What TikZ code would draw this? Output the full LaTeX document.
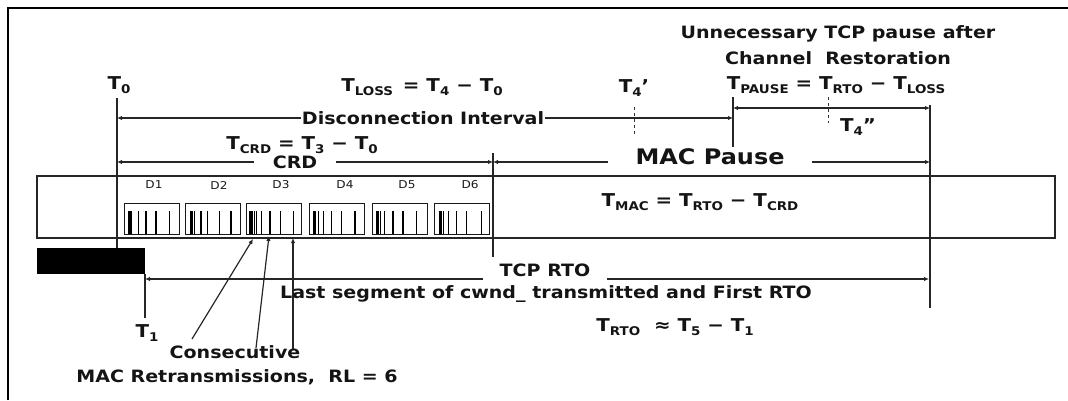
\documentclass[tikz,border=0pt]{standalone}
\usepackage{fontspec}
\setmainfont{DejaVu Sans}[FakeStretch=1.12]
\usetikzlibrary{arrows.meta}
\newcommand\Sb[1]{\raisebox{-0.2em}{\fontsize{12}{12}\selectfont #1}}
\tikzset{
  ln/.style={line width=1.2pt, draw=black!85},
  arr/.style={ln, {Latex[length=5pt,width=4.5pt]}-{Latex[length=5pt,width=4.5pt]}},
  rarr/.style={ln, -{Latex[length=5pt,width=4.5pt]}},
  dsh/.style={line width=1pt, draw=black!80, dash pattern=on 3pt off 3pt},
  lbl/.style={font=\fontsize{17}{20}\selectfont\bfseries, inner sep=0pt, text=black!92},
  texpr/.style={font=\fontsize{17.7}{20}\selectfont\bfseries, inner sep=0pt, text=black!92},
  dlbl/.style={font=\fontsize{10.8}{12}\selectfont, inner sep=0pt, text=black!90},
  cut/.style={fill=white},
  dbox/.style={draw=black!90, line width=1pt, minimum width=55pt, minimum height=31pt, inner sep=0pt},
  bar/.style={line width=1.1pt, draw=black},
}
\begin{document}
\begin{tikzpicture}[x=1pt,y=-1pt]
\useasboundingbox (0,0) rectangle (1068,400);
% frame
\coordinate (fbl) at (8,400); \coordinate (ftl) at (8,8); \coordinate (ftr) at (1068,8);
\draw[line width=2pt] (fbl) -- (ftl) -- (ftr);

% main MAC box and black block
\node[draw=black!85, line width=1.2pt, minimum width=1018pt, minimum height=62pt, inner sep=0pt] (macbox) at (546,207) {};
\node[fill=black, minimum width=108pt, minimum height=26pt, inner sep=0pt] (blk) at (91,261) {};

% small D boxes
\foreach \n/\bx/\offs in {1/124/{4.3,5.3,6.3,7.7,14.3,22,32,45.3},
                          2/185/{5.3,6.3,7.7,9.3,16,22.7,34.3,46},
                          3/246/{3.3,5,6.7,8.3,10.7,15.7,24,34.7,47.3},
                          4/309/{4.3,5.3,6.7,9.3,14.3,22.7,32.7,46},
                          5/372/{4.3,5.3,6.7,8.3,12.7,21,31,44.3},
                          6/434/{5.3,6.3,7.7,9.3,14.3,22.7,32.7,47.7}}{
  \node[dbox] (d\n box) at (\bx+27.5,218.5) {};
  \foreach \o in \offs { \draw[bar] (\bx+\o,211) -- (\bx+\o,234); }
}
\foreach \n/\lx in {1/154,2/219,3/281,4/345,5/407,6/470}{
  \node[dlbl] (d\n) at (\lx,185) {D\n};
}

% vertical time lines
\coordinate (t0a) at (117,98);  \coordinate (t0b) at (117,248);
\coordinate (t3a) at (493,153); \coordinate (t3b) at (493,257);
\coordinate (t4a) at (733,97);  \coordinate (t4b) at (733,152);
\coordinate (t5a) at (930,105); \coordinate (t5b) at (930,308);
\coordinate (t1a) at (145,274); \coordinate (t1b) at (145,318);
\draw[ln] (t0a) -- (t0b);
\draw[ln] (t3a) -- (t3b);
\draw[ln] (t4a) -- (t4b);
\draw[ln] (t5a) -- (t5b);
\draw[ln] (t1a) -- (t1b);

% dashed markers
\coordinate (t4pa) at (634,107); \coordinate (t4pb) at (634,135);
\coordinate (t4ppa) at (828,97); \coordinate (t4ppb) at (828,123);
\draw[dsh] (t4pa) -- (t4pb);
\draw[dsh] (t4ppa) -- (t4ppb);

% interval arrows
\coordinate (discL) at (117,118); \coordinate (discR) at (733,118);
\coordinate (pauL) at (733,108);  \coordinate (pauR) at (930,108);
\coordinate (crdL) at (117,162);  \coordinate (crdR) at (493,162);
\coordinate (macL) at (493,162);  \coordinate (macR) at (930,162);
\coordinate (rtoL) at (145,279);  \coordinate (rtoR) at (929,279);
\draw[arr] (discL) -- (discR);
\draw[arr] (pauL) -- (pauR);
\draw[arr] (crdL) -- (crdR);
\draw[arr] (macL) -- (macR);
\draw[arr] (rtoL) -- (rtoR);

% retransmission arrows
\coordinate (r1s) at (192,339); \coordinate (r1e) at (253,239);
\coordinate (r2s) at (256,348); \coordinate (r2e) at (269,236);
\coordinate (r3s) at (293,350); \coordinate (r3e) at (293,238);
\draw[rarr] (r1s) -- (r1e);
\draw[rarr] (r2s) -- (r2e);
\draw[rarr] (r3s) -- (r3e);

% labels
\node[lbl] (unn) at (838,34) {Unnecessary TCP pause after};
\node[lbl] (chr) at (838,58) {Channel\ \ Restoration};
\node[texpr] (tpause) at (836,85) {T\Sb{PAUSE} = T\Sb{RTO} − T\Sb{LOSS}};
\node[texpr] (tloss) at (422,87) {T\Sb{LOSS} \,= T\Sb{4} − T\Sb{0}};
\node[texpr] (t0) at (119,85) {T\Sb{0}};
\node[texpr] (t4p) at (634,88) {T\Sb{4}’};
\node[texpr] (t4pp) at (858,127) {T\Sb{4}”};
\node[texpr] (tcrd) at (302,145) {T\Sb{CRD} = T\Sb{3} − T\Sb{0}};
\node[texpr] (tmac) at (700,202) {T\Sb{MAC} = T\Sb{RTO} − T\Sb{CRD}};
\node[lbl, cut, inner xsep=1pt] (disc) at (423,118) {Disconnection Interval};
\node[lbl, cut, inner xsep=19pt, inner ysep=2pt] (crd) at (295,162) {CRD};
\node[font=\fontsize{21.4}{24}\selectfont\bfseries, text=black!92, cut, inner xsep=27pt, inner ysep=2pt] (macp) at (710,157) {MAC Pause};
\node[lbl, cut, inner xsep=17pt, inner ysep=4pt] (tcp) at (545,270) {TCP RTO};
\node[lbl] (last) at (546,294) {Last segment of cwnd\_ transmitted and First RTO};
\node[texpr] (trto) at (675,327) {T\Sb{RTO}\ \ ≈ T\Sb{5} − T\Sb{1}};
\node[texpr] (t1) at (147,333) {T\Sb{1}};
\node[lbl] (cons) at (235,352) {Consecutive};
\node[lbl] (macr) at (237,377) {MAC Retransmissions,\ \ RL = 6};
\end{tikzpicture}
\end{document}
